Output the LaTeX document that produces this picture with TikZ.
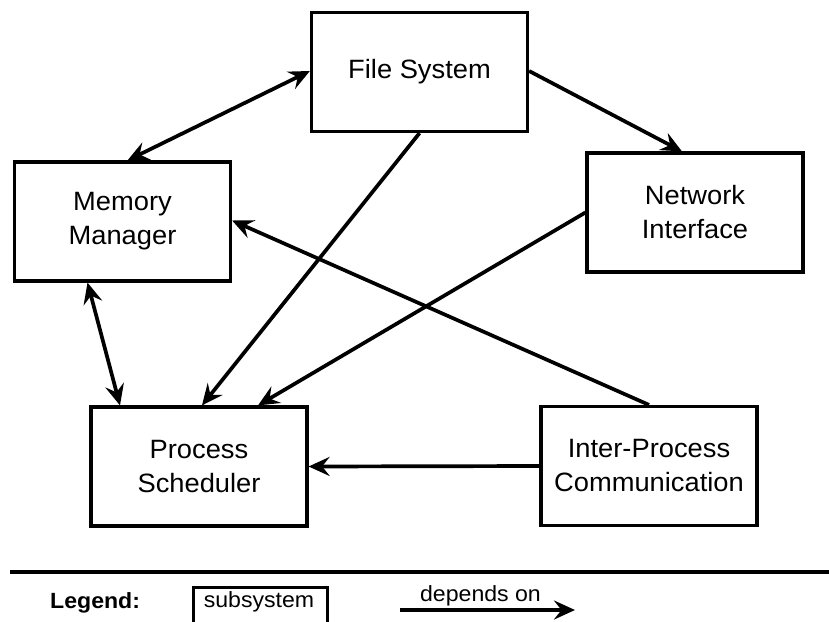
\documentclass[tikz,border=0pt]{standalone}
\usepackage{fontspec}
\setmainfont[FakeStretch=1.03]{Liberation Sans}
\newfontfamily\legfont[FakeStretch=1.05]{Liberation Sans}
\usetikzlibrary{arrows.meta}
\begin{document}
\begin{tikzpicture}[x=1pt,y=-1pt,
  sub/.style={draw,line width=3.2pt,minimum width=216pt,minimum height=119pt,align=center,
    font=\fontsize{26.5pt}{34pt}\selectfont,inner sep=0pt},
  tip/.tip={Stealth[length=21pt,width=19pt,inset=7.5pt]},
  dep/.style={line width=3.7pt,-tip},
  bidep/.style={line width=3.7pt,tip-tip},
  legtext/.style={font=\legfont\fontsize{22pt}{24pt}\selectfont,inner sep=0pt}]
\useasboundingbox (0,0) rectangle (829,621);
\node[sub] (fs) at (419.5,72) {File System};
\node[sub] (mm) at (122.5,221.5) {Memory\\Manager};
\node[sub] (ni) at (695,212.5) {Network\\Interface};
\node[sub] (ps) at (199,466.5) {Process\\Scheduler};
\node[sub] (ipc) at (649,466) {Inter-Process\\Communication};
\draw[bidep] ([xshift=5pt]mm.north) -- ([yshift=1pt]fs.west);
\draw[dep] ([yshift=1pt]fs.east) -- ([xshift=-13pt]ni.north);
\draw[dep] (fs.south) -- ([xshift=3pt]ps.north);
\draw[dep] (ni.west) -- ([xshift=59pt]ps.north);
\draw[dep] (ipc.north) -- ([yshift=1pt]mm.east);
\draw[dep] (ipc.west) -- (ps.east);
\draw[bidep] ([xshift=-35pt]mm.south) -- ([xshift=-79pt]ps.north);
% legend
\coordinate (ll) at (10,572);
\coordinate (lr) at (829,572);
\draw[line width=3.7pt] (ll) -- (lr);
\node[inner sep=0pt,font=\legfont\bfseries\fontsize{22pt}{24pt}\selectfont,anchor=base west] (leg) at (50,608) {Legend:};
\node[draw,line width=3pt,minimum width=134pt,minimum height=38pt,anchor=north west,inner sep=0pt] (lbox) at (191.5,585.5) {};
\node[legtext,anchor=base] (lboxt) at (259,607) {subsystem};
\coordinate (a1) at (400,610);
\coordinate (a2) at (575,610);
\draw[dep] (a1) -- (a2);
\node[legtext,anchor=base] (dt) at (480.5,601) {depends on};
\end{tikzpicture}
\end{document}
